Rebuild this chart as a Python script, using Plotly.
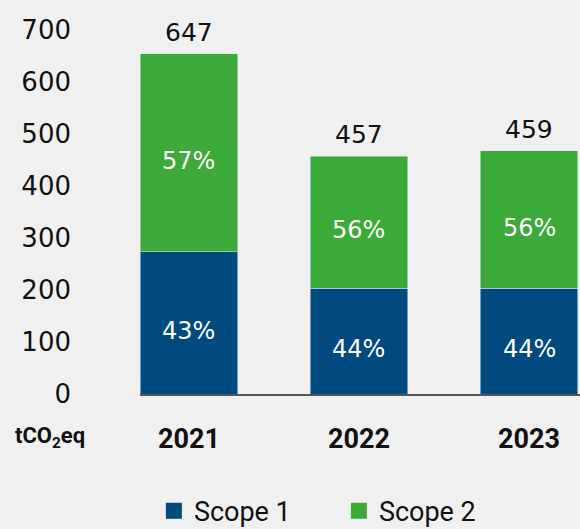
import plotly.graph_objects as go

years = ["2021", "2022", "2023"]
scope1 = [274, 203, 203]
scope2 = [380, 254, 265]
total_labels = ["647", "457", "459"]
pct1_labels = ["43%", "44%", "44%"]
pct2_labels = ["57%", "56%", "56%"]
y_ticks = [0, 100, 200, 300, 400, 500, 600, 700]

BLUE = "#004A80"
GREEN = "#3BAA38"
BG = "#F0F0F0"
NUMFONT = "DejaVu Sans"

fig = go.Figure()
fig.add_bar(x=years, y=scope1, marker_color=BLUE, name="Scope 1", showlegend=False)
fig.add_bar(x=years, y=scope2, marker_color=GREEN, name="Scope 2", showlegend=False)

# legend proxies
fig.add_scatter(x=[None], y=[None], mode="markers", name="Scope 1",
                marker=dict(symbol="square", size=17, color=BLUE))
fig.add_scatter(x=[None], y=[None], mode="markers", name="Scope 2",
                marker=dict(symbol="square", size=17, color=GREEN))

annotations = []
for i, yr in enumerate(years):
    tot = scope1[i] + scope2[i]
    annotations.append(dict(x=i, y=tot, text=total_labels[i], showarrow=False,
                            yanchor="bottom", yshift=5,
                            font=dict(size=25, color="#111111", family=NUMFONT)))
    annotations.append(dict(x=i, y=scope1[i] / 2, text=pct1_labels[i], showarrow=False,
                            yshift=-8,
                            font=dict(size=24, color="white", family=NUMFONT)))
    annotations.append(dict(x=i, y=scope1[i] + scope2[i] / 2, text=pct2_labels[i], showarrow=False,
                            yshift=-8,
                            font=dict(size=24, color="white", family=NUMFONT)))

annotations.append(dict(xref="paper", yref="paper", x=-0.205, y=-0.12, xanchor="center",
                        yanchor="middle",
                        text="<b>tCO<sub>2</sub>eq</b>", showarrow=False,
                        font=dict(size=22, color="#111111", family="Roboto")))

fig.update_layout(
    barmode="stack",
    bargap=0.424,
    width=580, height=529,
    paper_bgcolor=BG, plot_bgcolor=BG,
    margin=dict(l=140, r=0, t=30, b=134.5, autoexpand=False),
    showlegend=True,
    legend=dict(orientation="h", x=0.452, xanchor="center", y=-0.322, yanchor="middle",
                font=dict(size=27, color="#111111", family="Roboto"),
                itemwidth=30, entrywidth=140, traceorder="normal",
                bgcolor="rgba(0,0,0,0)"),
    annotations=annotations,
    font=dict(family=NUMFONT, color="#111111"),
)
fig.update_xaxes(type="category", range=[-0.288, 2.3], showline=True, linecolor="#555555",
                 linewidth=2, ticks="", showgrid=False,
                 tickfont=dict(size=27, color="#111111", family="Roboto"),
                 tickprefix="<b>", ticksuffix="</b>", ticklabelstandoff=20)
fig.update_yaxes(range=[0, 700], tickvals=y_ticks, showgrid=False, zeroline=False,
                 showline=False, ticks="",
                 tickfont=dict(size=26, color="#111111", family=NUMFONT),
                 ticklabelstandoff=68)

fig.write_html("out.html", post_script="document.body.style.margin='0';",
               config={"displayModeBar": False})
